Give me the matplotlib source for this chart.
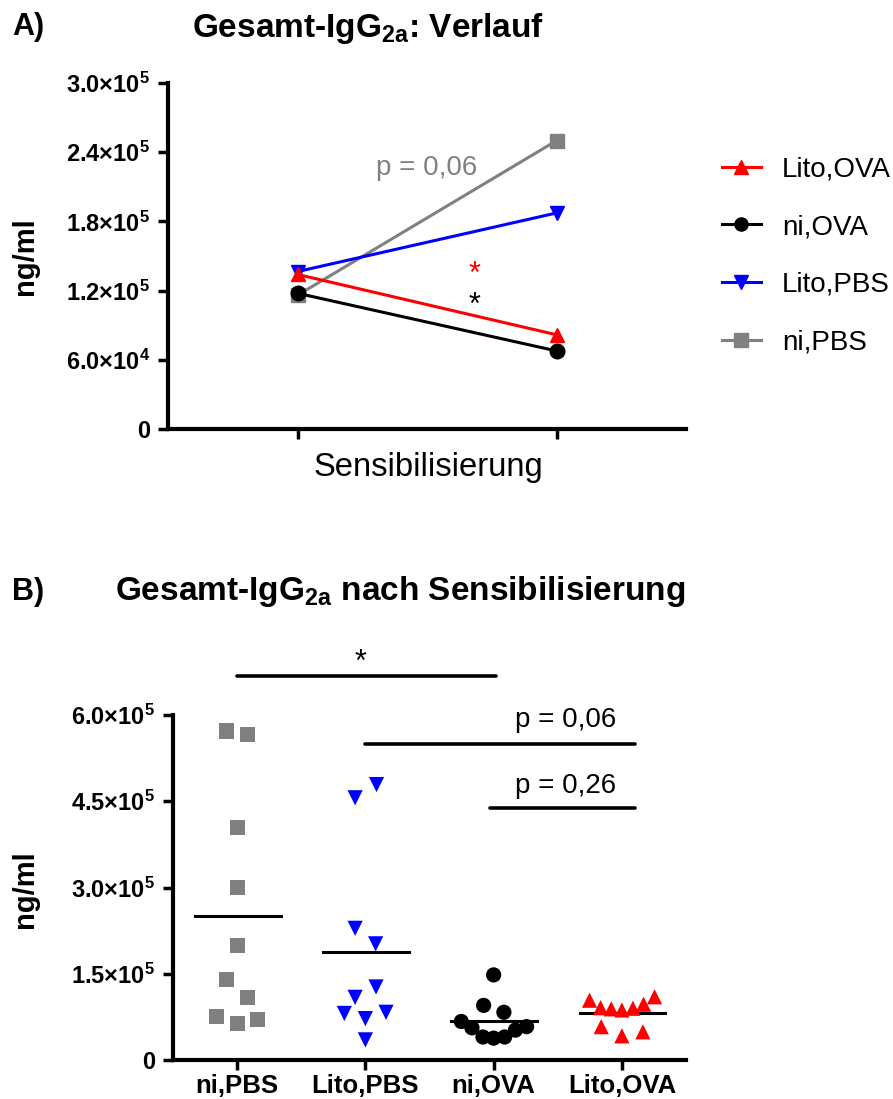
import numpy as np
import matplotlib
matplotlib.use("Agg")
import matplotlib.pyplot as plt

plt.rcParams["font.family"] = ["Liberation Sans", "DejaVu Sans"]
plt.rcParams["mathtext.fontset"] = "custom"
plt.rcParams["mathtext.rm"] = "Liberation Sans"
plt.rcParams["mathtext.it"] = "Liberation Sans:italic"
plt.rcParams["mathtext.bf"] = "Liberation Sans:bold"
plt.rcParams["mathtext.default"] = "bf"

# groups (order of panel B)
groups = ["ni,PBS", "Lito,PBS", "ni,OVA", "Lito,OVA"]
colors = ["#808080", "#0000ff", "#000000", "#ff0000"]
markers = ["s", "v", "o", "^"]

# single animals after sensitisation (ng/ml)
ni_pbs = [572000, 566000, 405000, 300000, 199000, 140000, 109000, 75000, 64000, 70000]
lito_pbs = [456000, 479000, 229000, 202000, 127000, 109000, 81000, 72000, 83000, 35000]
ni_ova = [148000, 95000, 83000, 67000, 56000, 40000, 38000, 40000, 52000, 58000]
lito_ova = [104000, 91000, 89000, 87000, 90000, 97000, 110000, 58000, 42000, 49000]

# horizontal spread of the points inside each group
ni_pbs_dx = [-0.08, 0.08, 0, 0, 0, -0.08, 0.08, -0.16, 0, 0.16]
lito_pbs_dx = [-0.08, 0.087, -0.08, 0.08, 0.083, -0.08, -0.164, 0, 0.161, 0]
ni_ova_dx = [0, -0.078, 0.08, -0.252, -0.169, -0.083, 0, 0.086, 0.17, 0.257]
lito_ova_dx = [-0.252, -0.166, -0.083, 0, 0.086, 0.169, 0.255, -0.161, 0, 0.164]

# group means before sensitisation (panel A, left point)
before = [116000, 136500, 117700, 134000]

# significance bars in panel B: (from, to, height, label)
sig_bars = [(0, 2.02, 667000, "*"), (1.0, 3.1, 550000, "p = 0,06"), (1.97, 3.1, 438000, "p = 0,26")]

values = [ni_pbs, lito_pbs, ni_ova, lito_ova]
offsets = [ni_pbs_dx, lito_pbs_dx, ni_ova_dx, lito_ova_dx]
means = [np.mean(v) for v in values]

W, H = 893, 1099
fig = plt.figure(figsize=(W / 100, H / 100), dpi=100)


def px(x, y):
    return x / W, 1 - y / H


def sci(v):
    if v == 0:
        return "0"
    e = int(np.floor(np.log10(v)))
    return "%.1f\u00d710$^{%d}$" % (v / 10 ** e, e)


def style_axes(ax):
    for s in ["top", "right"]:
        ax.spines[s].set_visible(False)
    for s in ["left", "bottom"]:
        ax.spines[s].set_linewidth(3)
    ax.tick_params(width=2.5, length=7, pad=6)


# ---------------- Panel A ----------------
axA = fig.add_axes([168 / W, 1 - 429 / H, 518 / W, 346 / H])
style_axes(axA)
handles = []
for i in range(4):
    h, = axA.plot([0, 1], [before[i], means[i]], color=colors[i], marker=markers[i],
                  markersize=10.5, lw=2.2, clip_on=False, label=groups[i])
    handles.append(h)
axA.set_xlim(-0.5, 1.5)
axA.set_ylim(0, 300000)
yt = [0, 60000, 120000, 180000, 240000, 300000]
axA.set_yticks(yt, [sci(v) for v in yt], fontsize=17, fontweight="bold")
axA.set_xticks([0, 1], ["", ""])
axA.text(0.5, 220000, "p = 0,06", color="#808080", fontsize=20, ha="center", va="baseline")
axA.text(0.684, 127000, "*", color="#ff0000", fontsize=22, ha="center", va="baseline")
axA.text(0.684, 100000, "*", color="#000000", fontsize=22, ha="center", va="baseline")

fig.text(*px(428, 476), "Sensibilisierung", fontsize=23.6, ha="center", va="baseline")
fig.text(*px(25, 256), "ng/ml", fontsize=21, fontweight="bold", rotation=90, ha="center", va="center")
fig.text(*px(12, 35), "A)", fontsize=22, fontweight="bold", ha="left", va="baseline")
fig.text(*px(368, 37), "Gesamt-IgG$_{2a}$: Verlauf", fontsize=24, fontweight="bold",
         ha="center", va="baseline")

leg = fig.legend(handles[::-1], [h.get_label() for h in handles[::-1]],
                 loc="center left", bbox_to_anchor=px(722, 256), frameon=False,
                 fontsize=20, handlelength=1.4, handletextpad=0.75, labelspacing=1.14,
                 borderpad=0, borderaxespad=0, markerscale=0.9)

# ---------------- Panel B ----------------
axB = fig.add_axes([173 / W, 1 - 1060 / H, 513 / W, 345 / H])
style_axes(axB)
for i in range(4):
    x = i + np.array(offsets[i])
    axB.plot([i - 0.33, i + 0.34], [means[i], means[i]], color="black", lw=2.2, zorder=2)
    axB.scatter(x, values[i], marker=markers[i], s=120, color=colors[i],
                edgecolors="none", zorder=3, clip_on=False)
axB.set_xlim(-0.5, 3.5)
axB.set_ylim(0, 600000)
ytB = [0, 150000, 300000, 450000, 600000]
axB.set_yticks(ytB, [sci(v) for v in ytB], fontsize=17, fontweight="bold")
axB.set_xticks(range(4), groups, fontsize=18.5, fontweight="bold")
axB.tick_params(axis="x", pad=3)

for x1, x2, y, lab in sig_bars:
    axB.plot([x1, x2], [y, y], color="black", lw=2.6, solid_capstyle="round", clip_on=False)
axB.text(0.96, 677000, "*", fontsize=22, ha="center", va="baseline")
axB.text(2.563, 579000, "p = 0,06", fontsize=20, ha="center", va="baseline")
axB.text(2.563, 465000, "p = 0,26", fontsize=20, ha="center", va="baseline")

fig.text(*px(25, 889), "ng/ml", fontsize=21, fontweight="bold", rotation=90, ha="center", va="center")
fig.text(*px(12, 600), "B)", fontsize=22, fontweight="bold", ha="left", va="baseline")
fig.text(*px(400, 600), "Gesamt-IgG$_{2a}$ nach Sensibilisierung", fontsize=24, fontweight="bold",
         ha="center", va="baseline")

fig.savefig("out.png", dpi=100)
